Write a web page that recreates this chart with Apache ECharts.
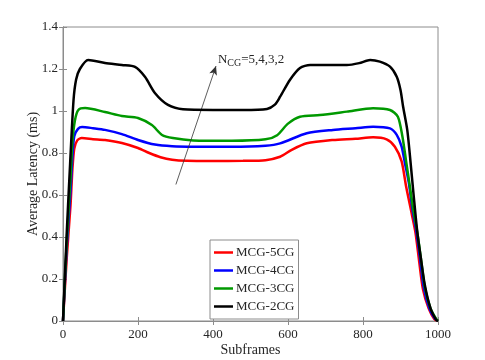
<!DOCTYPE html>
<html><head><meta charset="utf-8">
<script src="https://cdn.jsdelivr.net/npm/echarts@6/dist/echarts.min.js"></script>
<style>html,body{margin:0;padding:0;background:#fff}#c{width:485px;height:360px}</style>
</head><body><div id="c"></div>
<script>
const seriesNames = ['MCG-5CG', 'MCG-4CG', 'MCG-3CG', 'MCG-2CG'];
const seriesColors = ['#ff0000', '#0000ff', '#009900', '#000000'];
const xTicks = [0, 200, 400, 600, 800, 1000];
const yTicks = [0, 0.2, 0.4, 0.6, 0.8, 1, 1.2, 1.4];

const mcg5 = [[0,0],[10,0.3],[20,0.55],[25,0.72],[30,0.82],[38,0.86],[50,0.871],[80,0.866],[112,0.862],[157,0.848],[200,0.824],[230,0.80],[260,0.78],[291,0.768],[330,0.763],[400,0.762],[480,0.763],[540,0.766],[579,0.782],[610,0.815],[650,0.846],[720,0.862],[780,0.868],[827,0.875],[863,0.865],[885,0.83],[903,0.76],[915,0.64],[930,0.51],[940,0.42],[950,0.28],[960,0.15],[975,0.06],[990,0.01],[1000,0]];
const mcg4 = [[0,0],[10,0.35],[20,0.62],[25,0.78],[30,0.88],[40,0.915],[51,0.924],[80,0.918],[112,0.91],[157,0.89],[200,0.862],[245,0.84],[291,0.832],[350,0.83],[450,0.83],[540,0.835],[579,0.846],[650,0.894],[720,0.91],[780,0.918],[827,0.925],[872,0.917],[890,0.886],[903,0.83],[912,0.75],[922,0.66],[932,0.53],[942,0.43],[952,0.3],[962,0.16],[977,0.06],[992,0.01],[1000,0]];
const mcg3 = [[0,0],[10,0.38],[20,0.68],[25,0.85],[32,0.957],[41,1.005],[59,1.014],[112,0.995],[157,0.976],[200,0.967],[237,0.933],[264,0.886],[293,0.871],[347,0.86],[450,0.858],[540,0.865],[571,0.885],[600,0.94],[632,0.973],[685,0.981],[757,0.997],[827,1.013],[872,1.005],[893,0.973],[905,0.88],[915,0.76],[925,0.64],[935,0.52],[945,0.42],[955,0.29],[965,0.16],[980,0.06],[995,0.01],[1000,0]];
const mcg2 = [[0,0],[10,0.42],[19,0.75],[28,1.05],[35,1.15],[45,1.2],[67,1.243],[112,1.229],[157,1.219],[192,1.21],[219,1.162],[245,1.086],[280,1.029],[320,1.008],[400,1.005],[480,1.005],[544,1.01],[565,1.03],[579,1.068],[605,1.148],[632,1.205],[659,1.219],[757,1.219],[790,1.228],[819,1.243],[845,1.235],[872,1.211],[890,1.163],[900,1.1],[907,1.02],[918,0.91],[925,0.79],[935,0.6],[945,0.42],[955,0.29],[965,0.17],[980,0.06],[995,0.005],[1000,0]];
const allData = [mcg5, mcg4, mcg3, mcg2];

const arrowStart = [301, 0.65];
const arrowEnd = [408, 1.214];
const annotationPos = [413, 1.245];

const FONT = 'Liberation Serif';
const axisGray = '#8c8c8c';
const textColor = '#262626';

const chart = echarts.init(document.getElementById('c'), null, {renderer: 'canvas'});

const series = allData.map((d, i) => ({
  name: seriesNames[i],
  type: 'line',
  data: d,
  xAxisIndex: 0, yAxisIndex: 0,
  showSymbol: false,
  smooth: 0.25,
  lineStyle: {color: seriesColors[i], width: 2.5},
  itemStyle: {color: seriesColors[i]},
  z: 2 + i,
  animation: false
}));

series.push({
  type: 'line', data: [], xAxisIndex: 0, yAxisIndex: 0,
  markLine: {
    silent: true, animation: false,
    symbol: ['none', 'arrow'], symbolSize: [6, 9],
    lineStyle: {color: '#333', width: 0.8, type: 'solid'},
    label: {show: false},
    data: [[{coord: arrowStart}, {coord: arrowEnd}]]
  },
  markPoint: {
    silent: true, animation: false,
    symbolSize: 0,
    data: [{coord: annotationPos}],
    label: {
      show: true, position: 'right', distance: 0,
      formatter: '{n|N}{s|CG}{n|=5,4,3,2}',
      rich: {
        n: {fontFamily: FONT, fontSize: 13, color: textColor},
        s: {fontFamily: FONT, fontSize: 10, color: textColor, verticalAlign: 'bottom', padding: [8, 0, 0, 0]}
      }
    }
  }
});

const option = {
  animation: false,
  backgroundColor: '#fff',
  grid: {left: 63, right: 47, top: 27, bottom: 39, show: true, borderColor: axisGray, borderWidth: 1,
    containLabel: false, outerBoundsMode: 'none'},
  legend: {
    data: seriesNames,
    orient: 'vertical',
    left: 210, top: 240,
    itemWidth: 19, itemHeight: 2.5, itemGap: 5,
    icon: 'rect',
    padding: [6, 4, 6, 4],
    backgroundColor: '#fff',
    borderColor: axisGray, borderWidth: 1,
    textStyle: {fontFamily: FONT, fontSize: 13, color: textColor, padding: [0, 0, 0, -2]}
  },
  xAxis: [{
    type: 'value', min: 0, max: 1000, interval: 200,
    name: 'Subframes', nameLocation: 'middle', nameGap: 22, nameMoveOverlap: false,
    nameTextStyle: {fontFamily: FONT, fontSize: 14, color: textColor},
    axisLine: {show: true, lineStyle: {color: axisGray}},
    axisTick: {show: true, inside: true, length: 4, lineStyle: {color: axisGray}},
    axisLabel: {fontFamily: FONT, fontSize: 13, color: textColor, margin: 7,
      formatter: v => xTicks.includes(v) ? String(v) : ''},
    splitLine: {show: false}
  }, {
    type: 'value', min: 0, max: 1000, interval: 200, position: 'top',
    axisLine: {show: true, lineStyle: {color: axisGray}},
    axisTick: {show: true, inside: true, length: 4, lineStyle: {color: axisGray}},
    axisLabel: {show: false}, splitLine: {show: false}
  }],
  yAxis: [{
    type: 'value', min: 0, max: 1.4, interval: 0.2,
    name: 'Average Latency (ms)', nameLocation: 'middle', nameGap: 23, nameMoveOverlap: false,
    nameTextStyle: {fontFamily: FONT, fontSize: 14, color: textColor},
    axisLine: {show: true, lineStyle: {color: axisGray}},
    axisTick: {show: true, inside: true, length: 4, lineStyle: {color: axisGray}},
    axisLabel: {fontFamily: FONT, fontSize: 13, color: textColor, margin: 5,
      formatter: v => { const t = yTicks.find(y => Math.abs(y - v) < 1e-6); return t === undefined ? '' : String(t); }},
    splitLine: {show: false}
  }, {
    type: 'value', min: 0, max: 1.4, interval: 0.2, position: 'right',
    axisLine: {show: true, lineStyle: {color: axisGray}},
    axisTick: {show: true, inside: true, length: 4, lineStyle: {color: axisGray}},
    axisLabel: {show: false}, splitLine: {show: false}
  }],
  series: series
};
chart.setOption(option);
</script>
</body></html>
